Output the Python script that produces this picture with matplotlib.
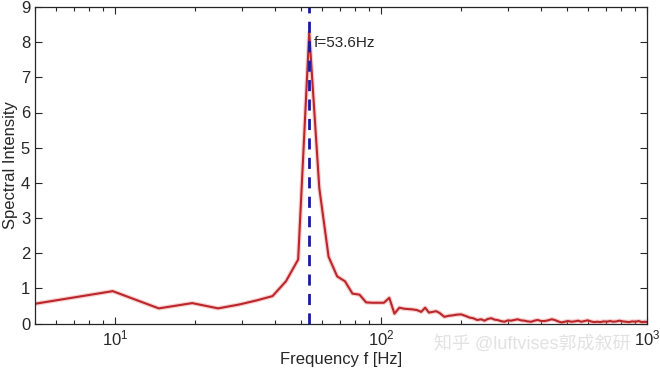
import matplotlib
matplotlib.use("Agg")
import matplotlib.pyplot as plt
import numpy as np

plt.rcParams['font.family'] = ['Liberation Sans', 'Noto Sans CJK SC', 'DejaVu Sans']
plt.rcParams['mathtext.fontset'] = 'custom'
plt.rcParams['mathtext.rm'] = 'Liberation Sans'

# --- spectrum --- #
freq = [4.9, 9.8, 14.6, 19.5, 24.4, 29.3, 34.2, 39.1, 43.9, 48.8, 53.7,
        58.6, 63.5, 68.4, 73.2, 78.1, 83.0, 87.9, 92.8, 97.7, 102.5,
        107.4, 112.3, 117.2, 122.1, 127.0, 131.8, 136.7, 141.6, 146.5,
        151.4, 156.3, 161.1, 166.0, 173.0, 180.0, 185.5, 192.0, 200.0,
        207.0, 215.0, 222.0, 230.0, 238.0, 245.0, 252.0, 260.0, 267.0,
        274.0, 282.0, 291.0, 300.0, 308.0, 317.0, 326.0, 336.0, 346.0,
        356.0, 367.0, 377.0, 388.0, 400.0, 412.0, 425.0, 438.0, 450.0,
        463.0, 477.0, 490.0, 505.0, 520.0, 535.0, 550.0, 566.0, 582.0,
        598.0, 615.0, 632.0, 650.0, 668.0, 687.0, 706.0, 726.0, 746.0,
        767.0, 788.0, 810.0, 833.0, 856.0, 880.0, 905.0, 930.0, 956.0,
        983.0, 1000.0]
amp = [0.55, 0.92, 0.43, 0.58, 0.43, 0.54, 0.66, 0.78, 1.20, 1.82, 8.27,
       3.85, 1.90, 1.34, 1.20, 0.85, 0.82, 0.60, 0.59, 0.59, 0.59,
       0.73, 0.28, 0.45, 0.42, 0.41, 0.40, 0.38, 0.33, 0.45,
       0.31, 0.33, 0.35, 0.30, 0.19, 0.22, 0.23, 0.25, 0.26,
       0.22, 0.17, 0.15, 0.10, 0.12, 0.08, 0.13, 0.15, 0.11,
       0.10, 0.07, 0.05, 0.09, 0.08, 0.10, 0.12, 0.09, 0.08,
       0.06, 0.05, 0.08, 0.10, 0.07, 0.07, 0.09, 0.12, 0.10,
       0.06, 0.03, 0.05, 0.07, 0.05, 0.06, 0.08, 0.05, 0.07,
       0.09, 0.06, 0.04, 0.05, 0.04, 0.06, 0.05, 0.07, 0.05,
       0.06, 0.08, 0.06, 0.05, 0.04, 0.06, 0.05, 0.07, 0.04,
       0.05, 0.04]
peak_f = 53.6
peak_label = "f=53.6Hz"

fig = plt.figure(figsize=(6.6, 3.77), dpi=100)
ax = fig.add_axes([35/660, 1 - 323.5/377, 612/660, 316.5/377])

ax.plot(freq, amp, color='#f0a0a0', lw=3.2, alpha=0.5, solid_joinstyle='round')
ax.plot(freq, amp, color='#bb262b', lw=1.5, solid_joinstyle='round')
ax.plot([peak_f, peak_f], [0, 9], color='#1a1aa0', lw=2, ls=(0, (4, 3)))
ax.text(55.9, 7.98, peak_label, fontsize=11, color='#262626', va='center', ha='left')

ax.set_xscale('log')
ax.set_xlim(5, 1000)
ax.set_ylim(0, 9)
ax.set_yticks(range(10))

ax.tick_params(which='both', direction='in', top=True, right=True,
               colors='#262626', labelsize=12)
ax.tick_params(which='major', length=5, width=0.8)
ax.tick_params(which='minor', length=3, width=0.8)
for s in ax.spines.values():
    s.set_color('#262626')
    s.set_linewidth(0.9)

ax.set_xlabel("Frequency f [Hz]", fontsize=12, color='#262626', labelpad=3)
ax.set_ylabel("Spectral Intensity", fontsize=12, color='#262626', labelpad=2)

# watermark
fig.text(434/660, 1 - 344/377, "知乎 @luftvises郭成叙研", fontsize=13,
         color='#e2e2e2', va='center', ha='left', zorder=0)

fig.savefig("out.png", dpi=100)
